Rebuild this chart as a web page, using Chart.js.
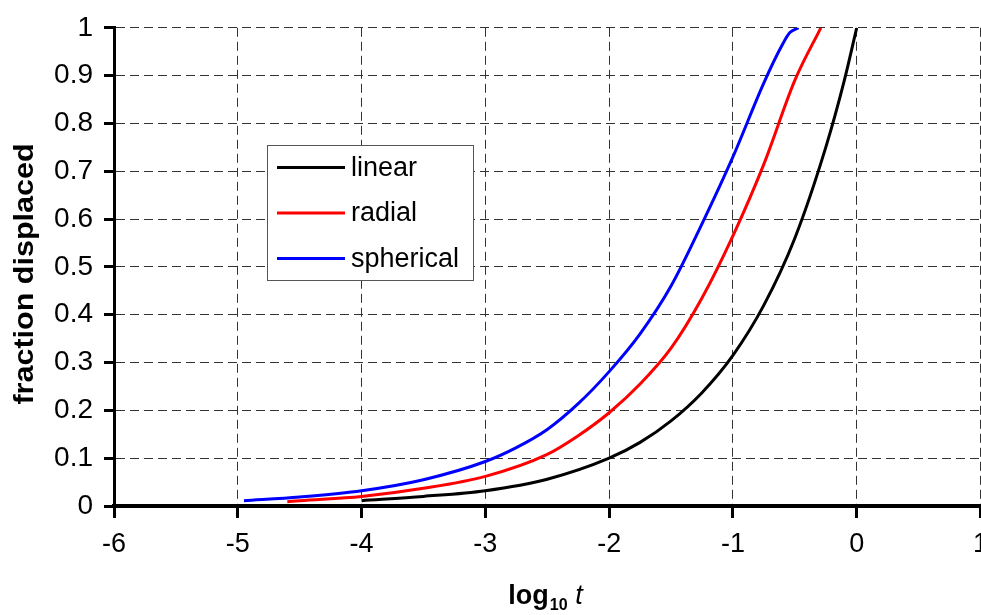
<!DOCTYPE html>
<html>
<head>
<meta charset="utf-8">
<script src="https://cdn.jsdelivr.net/npm/chart.js@4/dist/chart.umd.min.js"></script>
<style>
    html, body { margin: 0; padding: 0; background: #fff; overflow: hidden; }
    /* a bit wider than the window: the last x label gets cut at the edge like the original */
    #wrap { width: 998px; height: 615px; }
</style>
</head>
<body>
<div id="wrap"><canvas id="fractionChart"></canvas></div>
<script>
// values
const seriesNames = ['linear', 'radial', 'spherical'];
const seriesColors = ['#000000', '#ff0000', '#0000ff'];

const linearX = [-4, -3.5, -3, -2.5, -2, -1.75, -1.5, -1.25, -1, -0.75, -0.5, -0.25, -0.1, 0];
const linearY = [0.011, 0.02, 0.032, 0.056, 0.1, 0.133, 0.178, 0.237, 0.315, 0.42, 0.56, 0.75, 0.89, 1];

const radialX = [-4.6, -4.5, -4, -3.5, -3, -2.5, -2.25, -2, -1.75, -1.5, -1.25, -1, -0.75, -0.5, -0.29];
const radialY = [0.009, 0.011, 0.02, 0.037, 0.062, 0.108, 0.147, 0.195, 0.255, 0.33, 0.435, 0.565, 0.715, 0.89, 1];

const sphericalX = [-4.95, -4.5, -4, -3.5, -3, -2.75, -2.5, -2.25, -2, -1.75, -1.5, -1.25, -1, -0.75, -0.6, -0.54, -0.47];
const sphericalY = [0.011, 0.019, 0.032, 0.055, 0.093, 0.122, 0.16, 0.214, 0.281, 0.36, 0.46, 0.59, 0.73, 0.885, 0.965, 0.99, 1];

const xMin = -6, xMax = 1;
const yMin = 0, yMax = 1;

const FONT = 'Arial, "Liberation Sans", sans-serif';

function toPoints(xs, ys) {
    return xs.map((x, i) => ({ x: x, y: ys[i] }));
}

// legend box drawn inside the plot, like the original
const boxLegend = {
    id: 'boxLegend',
    afterDraw(chart) {
        const ctx = chart.ctx;
        const left = 267.5, top = 145.5, w = 206, h = 135;
        ctx.save();
        ctx.fillStyle = '#fff';
        ctx.fillRect(left, top, w, h);
        ctx.strokeStyle = '#555';
        ctx.lineWidth = 1;
        ctx.strokeRect(left, top, w, h);
        ctx.font = '27px ' + FONT;
        ctx.textBaseline = 'middle';
        ctx.textAlign = 'left';
        chart.data.datasets.forEach((ds, i) => {
            const y = 167.5 + i * 45.5;
            ctx.strokeStyle = ds.borderColor;
            ctx.lineWidth = 3;
            ctx.beginPath();
            ctx.moveTo(277, y);
            ctx.lineTo(345, y);
            ctx.stroke();
            ctx.fillStyle = '#000';
            ctx.fillText(ds.label, 351, y + 1);
        });
        ctx.restore();
    }
};

// axis titles: log10 t with subscript, and the rotated y title
const axisTitles = {
    id: 'axisTitles',
    afterDraw(chart) {
        const ctx = chart.ctx;
        ctx.save();
        ctx.fillStyle = '#000';
        ctx.textBaseline = 'alphabetic';
        ctx.textAlign = 'left';

        const partA = 'log', partB = '10', partC = ' t';
        ctx.font = 'bold 27px ' + FONT;
        const wA = ctx.measureText(partA).width;
        ctx.font = 'bold 16px ' + FONT;
        const wB = ctx.measureText(partB).width;
        ctx.font = 'italic 27px ' + FONT;
        const wC = ctx.measureText(partC).width;
        let x = 545 - (wA + wB + wC) / 2;
        const base = 604;
        ctx.font = 'bold 27px ' + FONT;
        ctx.fillText(partA, x, base);
        x += wA + 1;
        ctx.font = 'bold 16px ' + FONT;
        ctx.fillText(partB, x, base + 6);
        x += wB;
        ctx.font = 'italic 27px ' + FONT;
        ctx.fillText(partC, x, base);

        ctx.translate(33, 274);
        ctx.rotate(-Math.PI / 2);
        ctx.scale(1.09, 1);
        ctx.font = 'bold 28px ' + FONT;
        ctx.textAlign = 'center';
        ctx.fillText('fraction displaced', 0, 0);
        ctx.restore();
    }
};

const ctx = document.getElementById('fractionChart');

new Chart(ctx, {
    type: 'line',
    data: {
        datasets: [
            { label: seriesNames[0], data: toPoints(linearX, linearY), borderColor: seriesColors[0] },
            { label: seriesNames[1], data: toPoints(radialX, radialY), borderColor: seriesColors[1] },
            { label: seriesNames[2], data: toPoints(sphericalX, sphericalY), borderColor: seriesColors[2] }
        ]
    },
    options: {
        responsive: true,
        maintainAspectRatio: false,
        animation: false,
        layout: {
            padding: { top: 22, right: 0, left: 0, bottom: 0 }
        },
        elements: {
            line: { borderWidth: 3, cubicInterpolationMode: 'monotone', fill: false, borderJoinStyle: 'round' },
            point: { radius: 0, hoverRadius: 0 }
        },
        plugins: {
            legend: { display: false },
            tooltip: { enabled: false }
        },
        scales: {
            x: {
                type: 'linear',
                min: xMin,
                max: xMax,
                afterFit(scale) { scale.height = 109; },
                ticks: {
                    stepSize: 1,
                    color: '#000',
                    padding: 10,
                    font: { family: FONT, size: 27 }
                },
                grid: {
                    color: '#333',
                    lineWidth: 1,
                    tickColor: '#000',
                    tickWidth: 3,
                    tickLength: 12
                },
                border: { display: true, color: '#000', width: 4, dash: [9, 5] }
            },
            y: {
                type: 'linear',
                min: yMin,
                max: yMax,
                afterFit(scale) { scale.width = 114; },
                ticks: {
                    stepSize: 0.1,
                    color: '#000',
                    padding: 11,
                    font: { family: FONT, size: 28 },
                    callback: (v) => +v.toFixed(1)
                },
                grid: {
                    color: '#333',
                    lineWidth: 1,
                    tickColor: '#000',
                    tickWidth: 3,
                    tickLength: 10
                },
                border: { display: true, color: '#000', width: 3, dash: [9, 5] }
            }
        }
    },
    plugins: [boxLegend, axisTitles]
});
</script>
</body>
</html>
